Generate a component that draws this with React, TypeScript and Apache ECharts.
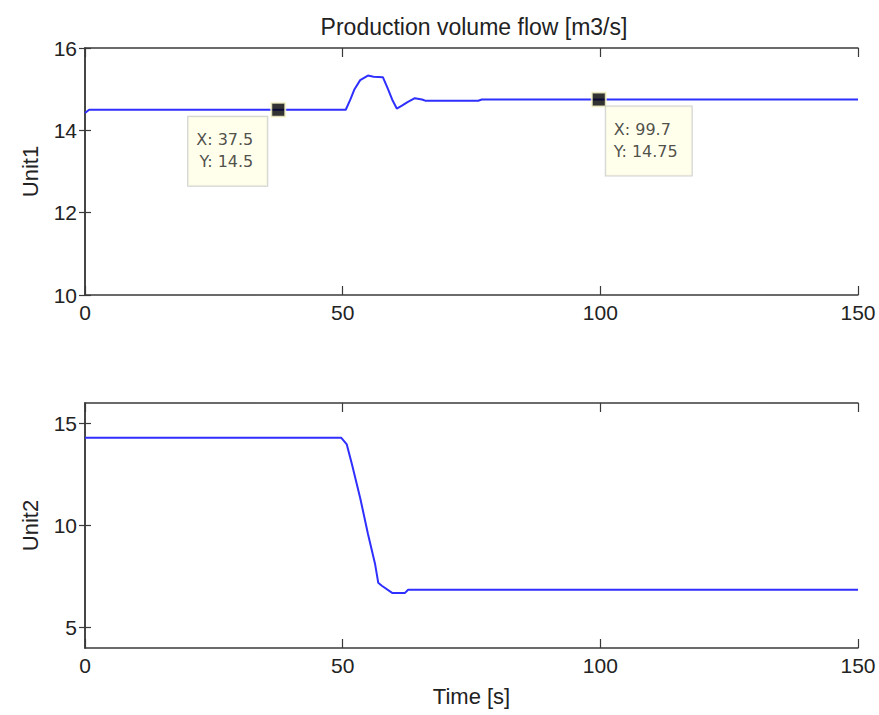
import React, { useEffect, useRef } from "react";
import * as echarts from "echarts";

const titleText = "Production volume flow [m3/s]";
const xTicks = [0, 50, 100, 150];
const unit1Ticks = [10, 12, 14, 16];
const unit2Ticks = [5, 10, 15];

const unit1X = [0, 0.8, 50.6, 51.5, 52.3, 53.4, 54.9, 56.0, 57.8, 58.8, 59.6, 60.5, 61.5, 62.5, 64.0, 65.4, 66.0, 76.3, 77.0, 150];
const unit1Y = [14.42, 14.5, 14.5, 14.75, 15.0, 15.22, 15.33, 15.3, 15.29, 15.0, 14.75, 14.53, 14.6, 14.68, 14.78, 14.75, 14.72, 14.72, 14.75, 14.75];

const unit2X = [0, 49.7, 50.8, 51.8, 53.4, 54.9, 56.3, 56.9, 57.6, 59.6, 62.1, 62.7, 150];
const unit2Y = [14.3, 14.3, 13.97, 13.0, 11.35, 9.6, 8.1, 7.2, 7.05, 6.7, 6.7, 6.85, 6.85];

const tipX = [37.5, 99.7];
const tipY = [14.5, 14.75];

const FONT = "'Liberation Sans', Arial, sans-serif";
const AXIS_COLOR = "#3a3a3a";
const LINE_COLOR = "#2f2fff";

export default function App() {
  const ref = useRef<HTMLDivElement>(null);
  useEffect(() => {
    if (!ref.current) return;
    const chart = echarts.init(ref.current, null, { renderer: "svg" });
    const axisLine = { show: true, lineStyle: { color: AXIS_COLOR, width: 1.5 } };
    const labelStyle = { fontFamily: FONT, fontSize: 21, color: "#222" };
    const nameStyle = { fontFamily: FONT, fontSize: 22, color: "#222" };

    const xMain = (grid: number, name?: string) => ({
      type: "value",
      gridIndex: grid,
      position: "bottom",
      min: 0,
      max: 150,
      interval: 50,
      axisLine,
      axisTick: { show: true, inside: true, length: 9, lineStyle: { color: AXIS_COLOR, width: 1.2 } },
      axisLabel: { ...labelStyle, margin: 7, customValues: xTicks },
      splitLine: { show: false },
      name: name || "",
      nameLocation: "middle",
      nameGap: 37,
      nameTextStyle: nameStyle,
    });
    const xMirror = (grid: number) => ({
      type: "value",
      gridIndex: grid,
      position: "top",
      min: 0,
      max: 150,
      interval: 50,
      axisLine,
      axisTick: { show: true, inside: true, length: 9, lineStyle: { color: AXIS_COLOR, width: 1.2 } },
      axisLabel: { show: false },
      splitLine: { show: false },
    });
    const yMain = (grid: number, min: number, max: number, ticks: number[], name: string) => ({
      type: "value",
      gridIndex: grid,
      position: "left",
      min,
      max,
      axisLine,
      axisTick: { show: true, inside: true, length: 6, customValues: ticks, lineStyle: { color: AXIS_COLOR, width: 1.2 } },
      axisLabel: { ...labelStyle, margin: 8, customValues: ticks },
      splitLine: { show: false },
      name,
      nameLocation: "middle",
      nameGap: 44,
      nameTextStyle: nameStyle,
    });
    const yMirror = (grid: number, min: number, max: number, ticks: number[]) => ({
      type: "value",
      gridIndex: grid,
      position: "right",
      min,
      max,
      axisLine,
      axisTick: { show: true, inside: true, length: 6, customValues: ticks, lineStyle: { color: AXIS_COLOR, width: 1.2 } },
      axisLabel: { show: false },
      splitLine: { show: false },
    });

    const tipStyle = {
      fontFamily: "'DejaVu Sans', sans-serif",
      fontSize: 16,
      lineHeight: 22,
      color: "#222",
      backgroundColor: "#ffffe6",
      borderColor: "#c4c4c4",
      borderWidth: 1,
      padding: [12, 14, 13, 8],
    };

    chart.setOption({
      animation: false,
      backgroundColor: "#ffffff",
      title: {
        text: titleText,
        left: 469,
        top: 10,
        textAlign: "center",
        textStyle: { fontFamily: FONT, fontSize: 23, fontWeight: "normal", color: "#222" },
      },
      grid: [
        { left: 85, right: 21, top: 48, height: 247 },
        { left: 85, right: 21, top: 403, height: 245 },
      ],
      xAxis: [xMain(0), xMirror(0), xMain(1, "Time [s]"), xMirror(1)],
      yAxis: [
        yMain(0, 10, 16, unit1Ticks, "Unit1"),
        yMirror(0, 10, 16, unit1Ticks),
        yMain(1, 4, 16, unit2Ticks, "Unit2"),
        yMirror(1, 4, 16, unit2Ticks),
      ],
      series: [
        {
          type: "line",
          xAxisIndex: 0,
          yAxisIndex: 0,
          showSymbol: false,
          lineStyle: { color: LINE_COLOR, width: 2 },
          data: unit1X.map((x, i) => [x, unit1Y[i]]),
          z: 2,
        },
        {
          type: "line",
          xAxisIndex: 2,
          yAxisIndex: 2,
          showSymbol: false,
          lineStyle: { color: LINE_COLOR, width: 2 },
          data: unit2X.map((x, i) => [x, unit2Y[i]]),
          z: 2,
        },
        {
          type: "scatter",
          xAxisIndex: 0,
          yAxisIndex: 0,
          symbol: "rect",
          symbolSize: 14,
          itemStyle: { color: "#000", borderColor: "#fffbd0", borderWidth: 2 },
          z: 5,
          data: [
            {
              value: [tipX[0], tipY[0]],
              label: {
                show: true,
                position: [-3, 15],
                align: "right",
                verticalAlign: "top",
                formatter: `X: ${tipX[0]}\nY: ${tipY[0]}`,
                ...tipStyle,
              },
            },
            {
              value: [tipX[1], tipY[1]],
              label: {
                show: true,
                position: [15, 15],
                align: "left",
                verticalAlign: "top",
                formatter: `X: ${tipX[1]}\nY: ${tipY[1]}`,
                ...tipStyle,
              },
            },
          ],
        },
      ],
    });
    return () => chart.dispose();
  }, []);
  return (
    <div
      ref={ref}
      style={{ position: "absolute", left: 0, top: 0, width: 879, height: 715 }}
    />
  );
}
